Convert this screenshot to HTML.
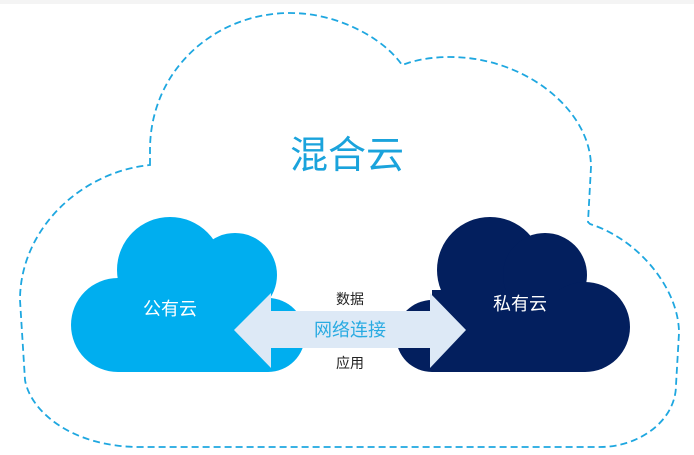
<!DOCTYPE html>
<html><head><meta charset="utf-8"><style>
html,body{margin:0;padding:0;background:#fff;}
body{width:694px;height:455px;overflow:hidden;position:relative;font-family:"Liberation Sans","Noto Sans CJK SC",sans-serif;}
</style></head><body>
<svg width="694" height="455" viewBox="0 0 694 455" xmlns="http://www.w3.org/2000/svg" style="position:absolute;left:0;top:0">
<rect x="0" y="0" width="694" height="4" fill="#f4f4f4"/>
<path d="M150,165 L150,150 C150,70 215,13 290,13 C340,13 385,40 402,65 L408,63 C420,59 435,57 450,57 C525,57 591,110 591,167 L588,222 L590,224 C640,240 679,290 679,333 L676,385 C676,420 640,447 600,447 L140,447 C70,447 30,410 25,380 L20,300 C20,230 80,172 150,165 Z" fill="none" stroke="#1ea7e0" stroke-width="1.8" stroke-dasharray="7,4"/>
<g fill="#00aeef">
<circle cx="118" cy="325" r="47"/>
<circle cx="170" cy="270" r="53"/>
<circle cx="235" cy="275" r="42"/>
<circle cx="268" cy="335" r="37"/>
<rect x="118" y="290" width="150" height="82"/>
</g>
<g fill="#031f5e">
<circle cx="432" cy="336" r="36"/>
<circle cx="490" cy="270" r="53"/>
<circle cx="545" cy="275" r="42"/>
<circle cx="585" cy="327" r="45"/>
<rect x="432" y="290" width="153" height="82"/>
</g>
<polygon points="234,330 271,293 271,311 430,311 430,293 466,330 430,368 430,348 271,348 271,368" fill="#dde9f6"/>
<text x="347" y="168" text-anchor="middle" font-size="38" fill="#1aa3dc" font-family="Liberation Sans,Noto Sans CJK SC,sans-serif">混合云</text>
<text x="170" y="315" text-anchor="middle" font-size="18" fill="#fff" font-family="Liberation Sans,Noto Sans CJK SC,sans-serif">公有云</text>
<text x="520" y="310" text-anchor="middle" font-size="18" fill="#fff" font-family="Liberation Sans,Noto Sans CJK SC,sans-serif">私有云</text>
<text x="350" y="304" text-anchor="middle" font-size="14" fill="#222" font-family="Liberation Sans,Noto Sans CJK SC,sans-serif">数据</text>
<text x="350" y="336" text-anchor="middle" font-size="18" fill="#29abe2" font-family="Liberation Sans,Noto Sans CJK SC,sans-serif">网络连接</text>
<text x="350" y="368" text-anchor="middle" font-size="14" fill="#222" font-family="Liberation Sans,Noto Sans CJK SC,sans-serif">应用</text>
</svg>
</body></html>
